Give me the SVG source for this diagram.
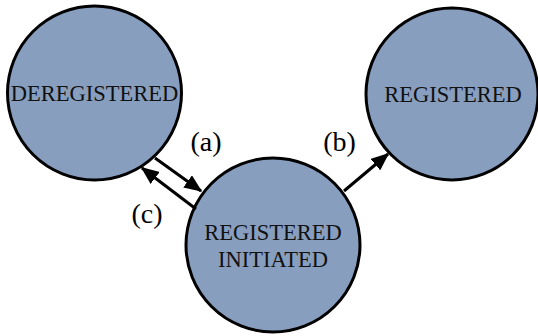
<svg xmlns="http://www.w3.org/2000/svg" width="538" height="336" viewBox="0 0 538 336">
<style>
.n{fill:#879ebf;stroke:#000;stroke-width:3}
.t{font-family:"Liberation Serif","Times New Roman",serif;font-size:22.5px;fill:#111;text-anchor:middle}
.l{font-family:"Liberation Serif","Times New Roman",serif;font-size:28px;fill:#000;text-anchor:middle}
.e{stroke:#000;stroke-width:3;fill:none;marker-end:url(#ah)}
</style>
<defs>
<marker id="ah" markerWidth="6" markerHeight="5" refX="5.5" refY="2.5" orient="auto" markerUnits="strokeWidth">
<path d="M0,0 L6,2.5 L0,5 Z" fill="#000"/>
</marker>
</defs>
<rect width="538" height="336" fill="#fff"/>
<g id="deregistered"><circle class="n" cx="94.5" cy="93" r="87"/><text class="t" x="94.5" y="101">DEREGISTERED</text></g>
<g id="registered"><circle class="n" cx="452" cy="94" r="86"/><text class="t" x="453" y="102">REGISTERED</text></g>
<g id="registered-initiated"><circle class="n" cx="273" cy="245" r="87"/><text class="t" x="273" y="240">REGISTERED</text><text class="t" x="273" y="267">INITIATED</text></g>
<g id="connectors">
<line class="e" x1="155" y1="158" x2="201" y2="191"/>
<line class="e" x1="196" y1="209" x2="142" y2="168"/>
<line class="e" x1="344" y1="191" x2="388" y2="154"/>
<text class="l" x="206" y="151">(a)</text>
<text class="l" x="339.5" y="151">(b)</text>
<text class="l" x="147" y="223">(c)</text>
</g>
</svg>
